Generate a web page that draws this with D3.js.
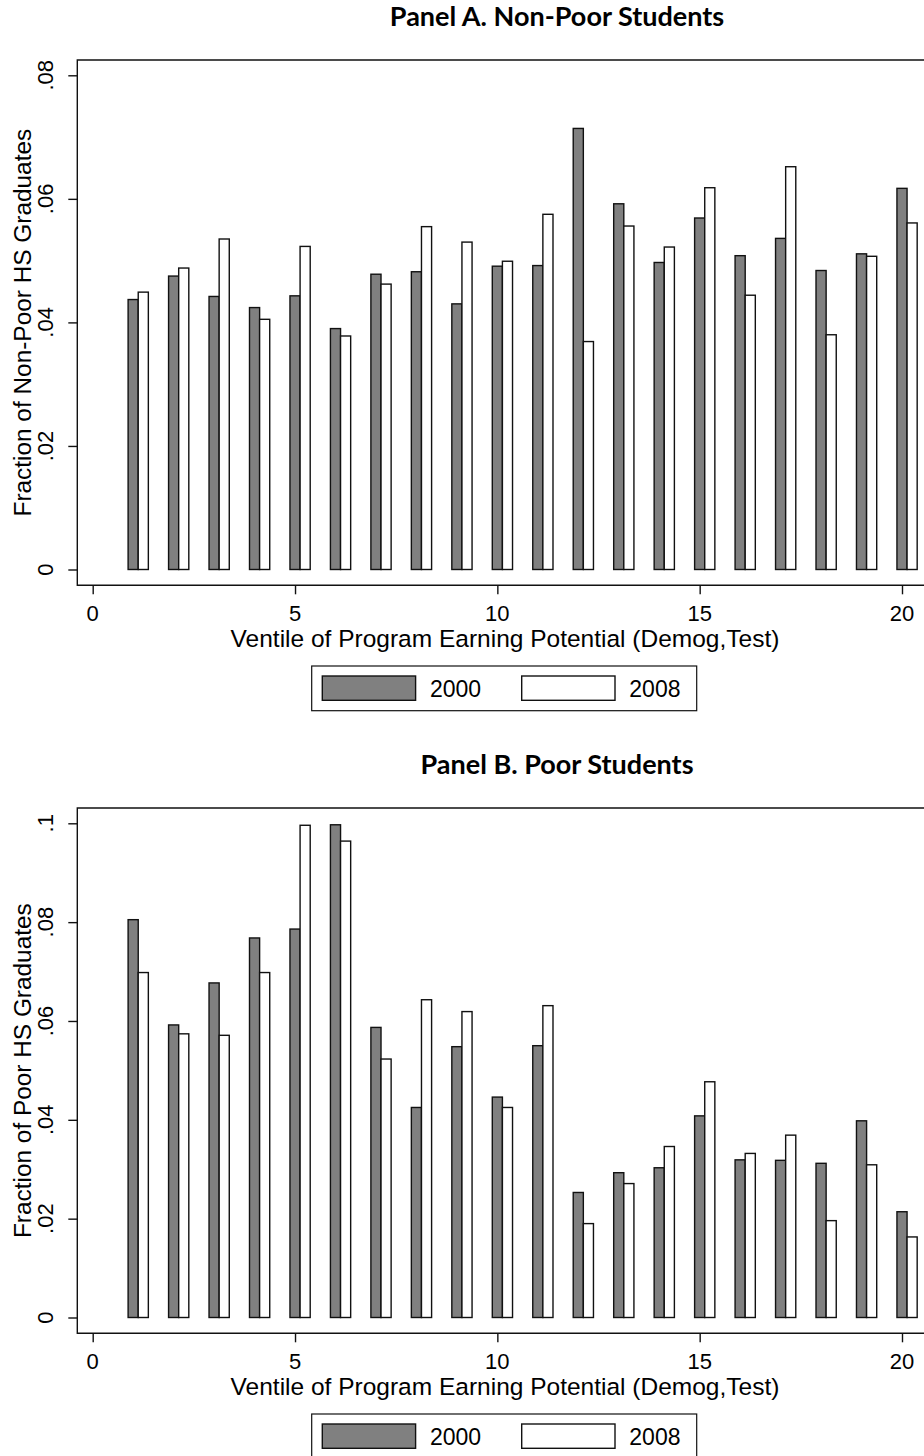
<!DOCTYPE html>
<html>
<head>
<meta charset="utf-8">
<script src="https://cdn.jsdelivr.net/npm/d3@7"></script>
<style>
  html, body { margin: 0; padding: 0; background: #fff; }
  svg { display: block; }
  .lbl { font-family: "Liberation Sans", Arial, sans-serif; fill: #000; }
  .ttl { font-family: Lato, "Open Sans", sans-serif; font-weight: 700; fill: #000; }
</style>
</head>
<body>
<script>
// Ventiles of program earning potential
const ventiles = [1, 2, 3, 4, 5, 6, 7, 8, 9, 10, 11, 12, 13, 14, 15, 16, 17, 18, 19, 20];

// Panel A: share of non-poor HS graduates by ventile
const nonPoor2000 = [0.0437, 0.0475, 0.0442, 0.0424, 0.0443, 0.0390, 0.0478, 0.0482, 0.0430, 0.0491,
                     0.0492, 0.0714, 0.0592, 0.0497, 0.0569, 0.0508, 0.0536, 0.0484, 0.0511, 0.0617];
const nonPoor2008 = [0.0449, 0.0488, 0.0535, 0.0405, 0.0523, 0.0378, 0.0462, 0.0555, 0.0530, 0.0499,
                     0.0575, 0.0369, 0.0556, 0.0522, 0.0618, 0.0444, 0.0652, 0.0380, 0.0507, 0.0561];

// Panel B: share of poor HS graduates by ventile
const poor2000 = [0.0805, 0.0592, 0.0677, 0.0768, 0.0786, 0.0997, 0.0587, 0.0425, 0.0548, 0.0446,
                  0.0550, 0.0253, 0.0293, 0.0303, 0.0408, 0.0319, 0.0318, 0.0312, 0.0398, 0.0214];
const poor2008 = [0.0698, 0.0574, 0.0571, 0.0698, 0.0996, 0.0964, 0.0523, 0.0643, 0.0619, 0.0425,
                  0.0631, 0.0190, 0.0271, 0.0346, 0.0477, 0.0332, 0.0369, 0.0196, 0.0309, 0.0163];

// Axis ticks and labels
const xTicks = [0, 5, 10, 15, 20];
const yTicksA = [0, 0.02, 0.04, 0.06, 0.08];
const yTicksB = [0, 0.02, 0.04, 0.06, 0.08, 0.1];
const seriesNames = ["2000", "2008"];
const titleA = "Panel A. Non-Poor Students";
const titleB = "Panel B. Poor Students";
const yTitleA = "Fraction of Non-Poor HS Graduates";
const yTitleB = "Fraction of Poor HS Graduates";
const xTitle = "Ventile of Program Earning Potential (Demog,Test)";

const W = 924, H = 1456;
const svg = d3.select("body").append("svg").attr("width", W).attr("height", H);

const fill2000 = "#808080", fill2008 = "#ffffff", ink = "#111";
const barW = 0.25;          // bar width in ventile units
const offset2008 = 0.25;    // 2008 bar sits just right of the 2000 bar

const fmtY = d => d === 0 ? "0" : d3.format(".2~f")(d).replace(/^0/, "");

function panel(dy, title, yTitle, yMax, yTicks, s2000, s2008) {
  const g = svg.append("g").attr("transform", `translate(0,${dy})`);
  const frame = { left: 77.3, right: 933, top: 60, bottom: 585.3 };
  const x = d3.scaleLinear().domain([0, 20]).range([92.7, 902]);
  const y = d3.scaleLinear().domain([0, yMax]).range([569.5, 75.3]);

  // title
  g.append("text").attr("class", "ttl")
    .attr("x", 557).attr("y", 26).attr("text-anchor", "middle")
    .attr("font-size", 27).text(title);

  // bars
  const rows = ventiles.map((v, i) => ({ v, a: s2000[i], b: s2008[i] }));
  const bars = g.append("g").attr("stroke", ink).attr("stroke-width", 1.4);
  bars.selectAll("rect.a").data(rows).join("rect").attr("class", "a")
    .attr("x", d => x(d.v - barW / 2)).attr("width", d => x(barW) - x(0))
    .attr("y", d => y(d.a)).attr("height", d => y(0) - y(d.a))
    .attr("fill", fill2000);
  bars.selectAll("rect.b").data(rows).join("rect").attr("class", "b")
    .attr("x", d => x(d.v + offset2008 - barW / 2)).attr("width", d => x(barW) - x(0))
    .attr("y", d => y(d.b)).attr("height", d => y(0) - y(d.b))
    .attr("fill", fill2008);

  // frame (left, top, bottom; right edge runs past the page)
  g.append("path")
    .attr("d", `M${frame.right},${frame.top}H${frame.left}V${frame.bottom}H${frame.right}`)
    .attr("fill", "none").attr("stroke", ink).attr("stroke-width", 1.4);

  // y axis
  const yAxis = g.append("g").attr("transform", `translate(${frame.left},0)`)
    .call(d3.axisLeft(y).tickValues(yTicks).tickSize(9).tickFormat(""));
  yAxis.select(".domain").remove();
  yAxis.selectAll("line").attr("stroke", ink).attr("stroke-width", 1.4);
  g.selectAll("text.ytick").data(yTicks).join("text").attr("class", "lbl ytick")
    .attr("transform", d => `translate(53,${y(d)}) rotate(-90)`)
    .attr("text-anchor", "middle").attr("font-size", 22).text(fmtY);

  // x axis
  const xAxis = g.append("g").attr("transform", `translate(0,${frame.bottom})`)
    .call(d3.axisBottom(x).tickValues(xTicks).tickSize(9).tickFormat(""));
  xAxis.select(".domain").remove();
  xAxis.selectAll("line").attr("stroke", ink).attr("stroke-width", 1.4);
  g.selectAll("text.xtick").data(xTicks).join("text").attr("class", "lbl xtick")
    .attr("x", d => x(d)).attr("y", 620.5).attr("text-anchor", "middle")
    .attr("font-size", 22).text(d => d);

  // axis titles
  g.append("text").attr("class", "lbl")
    .attr("x", 505).attr("y", 646.5).attr("text-anchor", "middle")
    .attr("font-size", 24.5).text(xTitle);
  g.append("text").attr("class", "lbl")
    .attr("transform", `translate(30.5,${(frame.top + frame.bottom) / 2}) rotate(-90)`)
    .attr("text-anchor", "middle").attr("font-size", 24.4).text(yTitle);

  // legend
  const lg = g.append("g");
  lg.append("rect").attr("x", 311.7).attr("y", 666).attr("width", 385).attr("height", 44.7)
    .attr("fill", "#fff").attr("stroke", ink).attr("stroke-width", 1.2);
  const keys = [{ x: 322.3, tx: 430, fill: fill2000 }, { x: 521.7, tx: 629.3, fill: fill2008 }];
  keys.forEach((k, i) => {
    lg.append("rect").attr("x", k.x).attr("y", 676).attr("width", 93.3).attr("height", 24.3)
      .attr("fill", k.fill).attr("stroke", ink).attr("stroke-width", 1.4);
    lg.append("text").attr("class", "lbl").attr("x", k.tx).attr("y", 697)
      .attr("font-size", 23).text(seriesNames[i]);
  });
}

panel(0, titleA, yTitleA, 0.08, yTicksA, nonPoor2000, nonPoor2008);
panel(748, titleB, yTitleB, 0.1, yTicksB, poor2000, poor2008);
</script>
</body>
</html>
